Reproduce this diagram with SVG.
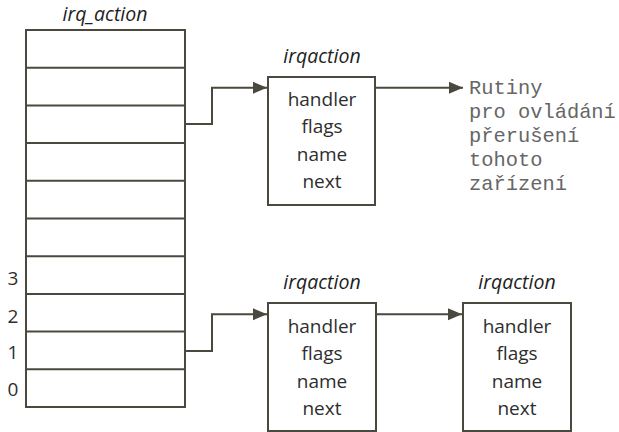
<svg xmlns="http://www.w3.org/2000/svg" width="619" height="432" viewBox="0 0 619 432">
  <style>
    .box { fill: #ffffff; stroke: #4b483f; stroke-width: 2; }
    .row { stroke: #4b483f; stroke-width: 2; }
    .wire { fill: none; stroke: #4b483f; stroke-width: 2; }
    .field { font-family: "Open Sans", "Liberation Sans", sans-serif; font-size: 19px; fill: #2e2e2e; text-anchor: middle; }
    .title { font-family: "Open Sans", "Liberation Sans", sans-serif; font-size: 19.5px; font-style: italic; fill: #1e1e1e; text-anchor: middle; }
    .idx { font-family: "Open Sans", "Liberation Sans", sans-serif; font-size: 19px; fill: #2e2e2e; text-anchor: middle; }
    .note { font-family: "Liberation Mono", "DejaVu Sans Mono", monospace; font-size: 20.4px; fill: #666666; }
  </style>
  <defs>
    <marker id="arrow" markerUnits="userSpaceOnUse" markerWidth="14" markerHeight="14" viewBox="0 0 14 14" refX="14" refY="7" orient="auto">
      <polygon points="0,1 14,7 0,13" fill="#4b483f"/>
    </marker>
  </defs>

  <rect width="619" height="432" fill="#ffffff"/>

  <!-- irq_action array: ten slots -->
  <g id="irq_action">
    <text class="title" x="105" y="21">irq_action</text>
    <rect class="box" x="26" y="30" width="159" height="377"/>
    <line class="row" x1="26" y1="67.7" x2="185" y2="67.7"/>
    <line class="row" x1="26" y1="105.4" x2="185" y2="105.4"/>
    <line class="row" x1="26" y1="143.1" x2="185" y2="143.1"/>
    <line class="row" x1="26" y1="180.8" x2="185" y2="180.8"/>
    <line class="row" x1="26" y1="218.5" x2="185" y2="218.5"/>
    <line class="row" x1="26" y1="256.2" x2="185" y2="256.2"/>
    <line class="row" x1="26" y1="293.9" x2="185" y2="293.9"/>
    <line class="row" x1="26" y1="331.6" x2="185" y2="331.6"/>
    <line class="row" x1="26" y1="369.3" x2="185" y2="369.3"/>
    <text class="idx" x="13" y="285">3</text>
    <text class="idx" x="13" y="323">2</text>
    <text class="idx" x="13" y="359">1</text>
    <text class="idx" x="13" y="396">0</text>
  </g>

  <!-- upper irqaction -->
  <g id="irqaction-top">
    <text class="title" x="322" y="63">irqaction</text>
    <rect class="box" x="268" y="77" width="107" height="128"/>
    <text class="field" x="322" y="106">handler</text>
    <text class="field" x="322" y="133">flags</text>
    <text class="field" x="322" y="161">name</text>
    <text class="field" x="322" y="188">next</text>
  </g>

  <!-- handler routines note -->
  <g id="note">
    <text class="note" x="469" y="94">Rutiny</text>
    <text class="note" x="469" y="118">pro ovládání</text>
    <text class="note" x="469" y="142">přerušení</text>
    <text class="note" x="469" y="166">tohoto</text>
    <text class="note" x="469" y="190">zařízení</text>
  </g>

  <!-- lower irqaction, first in chain -->
  <g id="irqaction-1">
    <text class="title" x="322" y="289">irqaction</text>
    <rect class="box" x="268" y="303" width="108" height="128"/>
    <text class="field" x="322" y="333">handler</text>
    <text class="field" x="322" y="360">flags</text>
    <text class="field" x="322" y="388">name</text>
    <text class="field" x="322" y="415">next</text>
  </g>

  <!-- lower irqaction, second in chain -->
  <g id="irqaction-2">
    <text class="title" x="517" y="289">irqaction</text>
    <rect class="box" x="463" y="303" width="108" height="128"/>
    <text class="field" x="517" y="333">handler</text>
    <text class="field" x="517" y="360">flags</text>
    <text class="field" x="517" y="388">name</text>
    <text class="field" x="517" y="415">next</text>
  </g>

  <!-- connectors -->
  <g id="connectors">
    <polyline class="wire" points="185,124 212,124 212,87.7 267,87.7" marker-end="url(#arrow)"/>
    <line class="wire" x1="375" y1="87.7" x2="463" y2="87.7" marker-end="url(#arrow)"/>
    <polyline class="wire" points="185,351 212,351 212,314.3 267,314.3" marker-end="url(#arrow)"/>
    <line class="wire" x1="376" y1="314.3" x2="462" y2="314.3" marker-end="url(#arrow)"/>
  </g>
</svg>
